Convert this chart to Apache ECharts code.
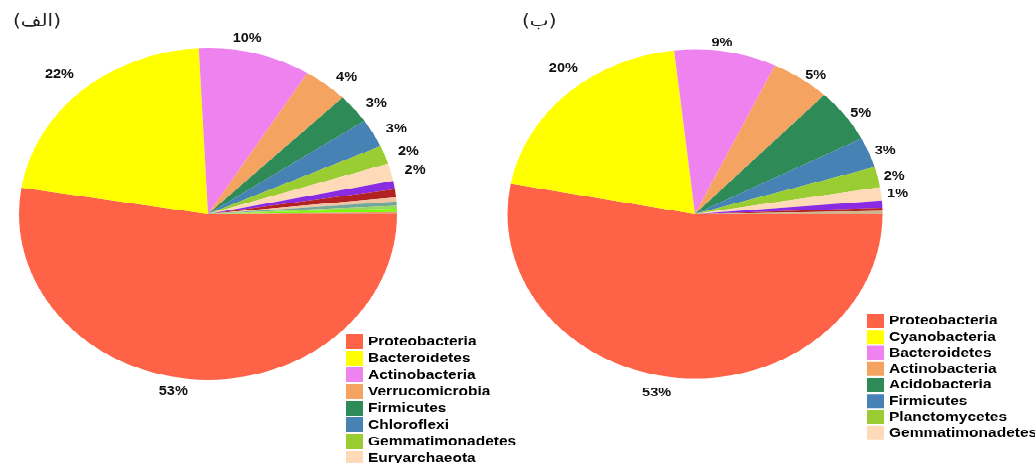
<!DOCTYPE html>
<html><head><meta charset="utf-8">
<script src="https://cdn.jsdelivr.net/npm/echarts@6/dist/echarts.min.js"></script>
<style>
html,body{margin:0;padding:0;background:#fff;overflow:hidden;width:1035px;height:463px}
#wrap{position:absolute;left:0;top:0;width:1035px;height:600px;transform:scaleY(0.8769);transform-origin:0 0}
.c{position:absolute;left:0;top:0;width:1035px;height:600px}
</style></head>
<body><div id="wrap"><div id="a" class="c"></div><div id="b" class="c"></div></div>
<script>
// ---- Data: pie (الف)
const titleA = '(الف)';
const namesA = ['Proteobacteria','Bacteroidetes','Actinobacteria','Verrucomicrobia','Firmicutes','Chloroflexi','Gemmatimonadetes','Euryarchaeota','Acidobacteria','Cyanobacteria','Planctomycetes','Nitrospirae','Thaumarchaeota','Chlamydiae','Deinococcus-Thermus'];
const valuesA = [52.6, 21.7, 9.6, 3.8, 2.9, 2.8, 1.8, 1.7, 0.8, 0.8, 0.4, 0.4, 0.3, 0.3, 0.2];
const legendCountA = 8;
// ---- Data: pie (ب)
const titleB = '(ب)';
const namesB = ['Proteobacteria','Cyanobacteria','Bacteroidetes','Actinobacteria','Acidobacteria','Firmicutes','Planctomycetes','Gemmatimonadetes','Chloroflexi','Verrucomicrobia','Nitrospirae'];
const valuesB = [53.0, 20.3, 8.8, 5.1, 5.3, 3.0, 2.0, 1.3, 0.7, 0.3, 0.3];
const legendCountB = 8;

// ---- Styles
const colorsA = ['#FF6347','#FFFF00','#EE82EE','#F4A460','#2E8B57','#4682B4','#9ACD32','#FFDAB9','#8A2BE2','#B22222','#F2C4A2','#76A89A','#98D85B','#7CFC00','#E9967A'];
const colorsB = ['#FF6347','#FFFF00','#EE82EE','#F4A460','#2E8B57','#4682B4','#9ACD32','#FFDAB9','#8A2BE2','#B22222','#D2B48C'];
const labelTweaksA = {Actinobacteria:{length:18,length2:-31}, Bacteroidetes:{length:24,length2:-12}, Proteobacteria:{length:14,length2:0}};
const labelTweaksB = {Bacteroidetes:{length:10,length2:-18}, Cyanobacteria:{length:39,length2:-39}, Proteobacteria:{length:17,length2:3}};

const FONT = 'Liberation Sans, Arial, sans-serif';

function buildData(names, values, tweaks){
  return names.map((n,i)=>{
    const d = {name:n, value:values[i]};
    if (values[i] < 1) { d.label = {show:false}; }
    if (tweaks[n]) { d.labelLine = Object.assign({show:false}, tweaks[n]); }
    return d;
  });
}

function makeOption(title, titleLeft, names, values, colors, tweaks, legendCount, center, radius, lineLen, dist, legendPos, itemH, gap, bg){
  return {
    backgroundColor: bg,
    animation:false,
    title:{text:title, left:titleLeft, top:15, padding:0, textStyle:{fontFamily:'DejaVu Sans', fontSize:20, fontWeight:'normal', color:'#222'}},
    legend:{orient:'vertical', left:legendPos[0], top:legendPos[1], padding:0, itemWidth:17, itemHeight:itemH, itemGap:gap, icon:'rect', selectedMode:false,
      textStyle:{fontFamily:FONT, fontSize:15.5, fontWeight:'bold', color:'#000'}, data:names.slice(0,legendCount)},
    color: colors,
    series:[{
      type:'pie', center:center, radius:radius, startAngle:0, clockwise:true, avoidLabelOverlap:false,
      emphasis:{disabled:true}, silent:true,
      itemStyle:{borderWidth:0},
      label:{show:true, position:'outside', formatter:p=>Math.round(p.percent)+'%', fontFamily:FONT, fontSize:14.5, fontWeight:'bold', color:'#111', distanceToLabelLine:dist},
      labelLine:{show:false, length:lineLen, length2:0},
      data: buildData(names, values, tweaks)
    }]
  };
}

const ca = echarts.init(document.getElementById('a'));
ca.setOption(makeOption(titleA, 13, namesA, valuesA, colorsA, labelTweaksA, legendCountA, [208,244], 189, 10, 4, [346,381], 17, 2, '#fff'));
const cb = echarts.init(document.getElementById('b'));
cb.setOption(makeOption(titleB, 522, namesB, valuesB, colorsB, labelTweaksB, legendCountB, [695,244], 187.5, 4, 2, [867,358], 16, 2.25, 'transparent'));
</script>
</body></html>
